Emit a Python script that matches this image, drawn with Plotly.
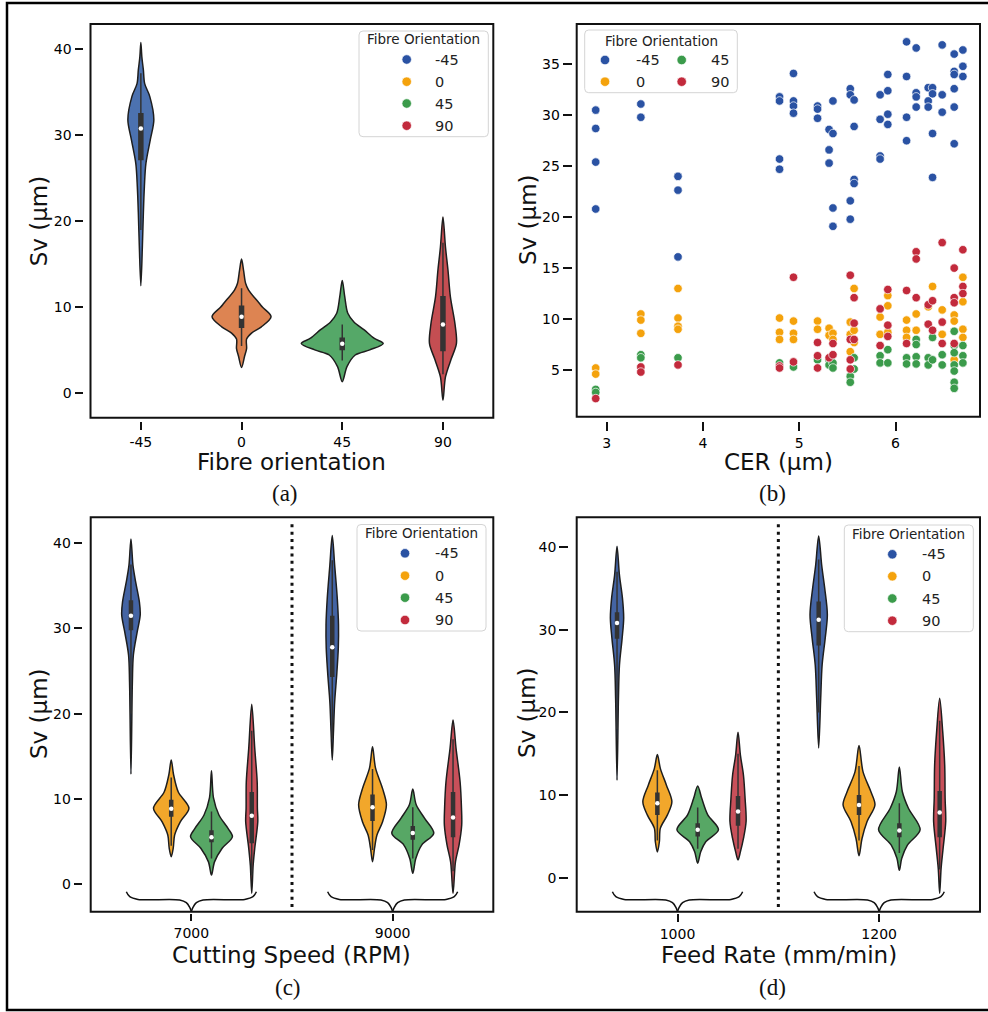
import plotly.graph_objects as go

W, H = 988, 1012
ORIENTATIONS = ['-45', '0', '45', '90']
CUT_SPEEDS = ['7000', '9000']
FEED_RATES = ['1000', '1200']

# ---------------- panel (b): CER vs Sv scatter ----------------
CER_COLS = [2.885, 3.354, 3.74, 4.795, 4.94, 5.19, 5.31, 5.35, 5.53, 5.57,
            5.84, 5.92, 6.115, 6.215, 6.34, 6.385, 6.485, 6.61, 6.70]
SV_B_M45 = [[30.5, 28.7, 25.4, 20.8], [31.1, 29.8], [24.0, 22.65, 16.1], [31.8, 31.4, 25.7, 24.7],
            [34.1, 31.4, 30.9, 30.2], [30.9, 30.6, 29.7], [28.6, 26.6, 25.3], [31.4, 28.2, 20.9, 19.1],
            [32.6, 32.0, 21.6, 19.8], [31.5, 28.9, 23.7, 23.3], [32.0, 29.6, 26.0, 25.7],
            [34.0, 32.4, 30.1, 29.1], [37.2, 33.8, 29.8, 27.5], [36.6, 32.2, 31.8, 30.8],
            [32.7, 31.4, 30.8], [32.7, 32.1, 28.2, 23.9], [36.9, 32.0, 30.3],
            [36.0, 34.3, 34.0, 32.6, 30.8, 27.2], [36.4, 34.8, 33.8]]
SV_B_0 = [[5.2, 4.6], [10.5, 9.9, 8.6], [13.0, 10.1, 9.3, 9.0], [10.1, 8.7, 8.0], [9.8, 8.6, 8.0],
          [9.8, 9.0], [9.1, 8.4], [8.6, 8.0], [9.7, 8.5, 6.8], [13.0, 8.9, 7.7], [10.2, 8.5],
          [12.3, 11.3, 8.7], [9.9, 8.9, 8.2], [10.5, 8.9], [11.2], [13.2], [10.9, 8.5],
          [10.4, 9.8, 6.0], [14.1, 11.7, 9.0, 8.2]]
SV_B_45 = [[3.1, 2.8], [6.5, 6.2], [6.2], [5.7], [5.3], [6.0], [6.0, 5.5], [5.7, 5.2], [4.4, 3.8],
           [6.2, 5.1], [6.4, 5.7], [7.0, 5.7], [6.2, 5.6], [8.0, 7.5, 6.3, 5.6], [6.2, 5.5],
           [8.2, 6.0], [6.5, 5.5], [8.8, 7.4, 6.7, 5.5, 4.9, 3.8, 3.2], [7.4, 6.4, 5.7]]
SV_B_90 = [[2.2], [5.3, 4.8], [5.5], [5.4, 5.2], [14.1, 5.8], [7.7, 6.4, 5.2], [6.2], [7.6, 6.5],
           [14.3, 8.0, 6.0, 5.1], [12.1, 9.6, 8.0], [11.0, 7.4], [12.9, 9.4, 8.3], [12.8, 7.6],
           [16.6, 15.9, 12.1], [11.4, 9.5], [11.8, 8.9], [17.5, 9.7, 7.6], [15.0, 12.1, 11.6, 7.6],
           [16.8, 13.2, 12.5]]

# ---------------- panel (a): violin profiles (Sv level, half width) ----------------
A_LEVELS = [
    [12.5, 17.0, 21.0, 24.0, 26.7, 29.5, 31.8, 34.5, 36.0, 37.6, 39.1, 40.8],
    [3.0, 4.3, 5.2, 6.3, 7.0, 7.7, 8.9, 10.0, 10.5, 12.0, 12.8, 14.3, 15.6],
    [1.35, 3.1, 4.45, 5.04, 5.8, 6.4, 7.4, 8.3, 9.3, 11.2, 13.1],
    [-0.8, 1.9, 3.9, 5.8, 8.1, 11.2, 14.3, 17.0, 20.5],
]
A_HALFWIDTHS = [
    [0, .015, .025, .035, .05, .094, .129, .089, .038, .025, .010, 0],
    [0, .030, .050, .050, .099, .194, .293, .209, .174, .070, .040, .020, 0],
    [0, .047, .129, .273, .407, .315, .215, .116, .055, .025, 0],
    [0, .025, .079, .134, .119, .074, .050, .025, 0],
]
A_BOX = [  # lower whisker, q1, median, q3, upper whisker
    [19.0, 27.1, 30.8, 32.6, 37.2],
    [5.5, 7.6, 8.9, 10.2, 12.2],
    [3.8, 5.0, 5.75, 6.5, 8.0],
    [2.2, 4.9, 8.0, 11.3, 17.5],
]

# ---------------- panel (c): cutting speed ----------------
C_LEVELS_7000 = [
    [12.9, 23.7, 26.9, 29.6, 31.6, 33.1, 35.5, 37.4, 40.5],
    [3.2, 4.2, 5.75, 7.3, 8.9, 10.8, 12.8, 14.55],
    [1.05, 2.6, 4.2, 5.55, 6.5, 8.1, 10.1, 13.3],
    [-1.1, 2.2, 4.2, 7.3, 8.9, 12.0, 15.9, 21.1],
]
C_HW_7000 = [
    [0, .007, .012, .031, .046, .042, .023, .010, 0],
    [0, .010, .017, .045, .088, .035, .012, 0],
    [0, .015, .053, .104, .083, .037, .010, 0],
    [0, .007, .015, .030, .028, .027, .015, 0],
]
C_BOX_7000 = [
    [20.0, 29.8, 31.5, 33.3, 37.5],
    [4.5, 7.9, 8.85, 9.9, 12.5],
    [3.0, 4.9, 5.5, 6.3, 8.5],
    [1.0, 4.8, 8.0, 10.8, 18.0],
]
C_LEVELS_9000 = [
    [14.55, 17.9, 21.4, 24.5, 27.7, 30.4, 33.5, 37.4, 40.9],
    [2.6, 4.2, 5.75, 7.3, 9.3, 11.2, 13.6, 16.1],
    [1.25, 3.0, 4.6, 5.95, 7.7, 9.3, 11.15],
    [-1.1, 2.6, 4.6, 6.9, 8.9, 12.0, 15.9, 19.25],
]
C_HW_9000 = [
    [0, .006, .012, .022, .030, .031, .025, .012, 0],
    [0, .010, .022, .050, .069, .050, .015, 0],
    [0, .015, .045, .104, .059, .017, 0],
    [0, .012, .030, .043, .042, .035, .015, 0],
]
C_BOX_9000 = [
    [17.0, 24.3, 27.8, 31.5, 38.0],
    [4.0, 7.4, 9.0, 10.5, 13.5],
    [3.0, 5.2, 6.0, 6.8, 9.0],
    [1.5, 5.5, 7.8, 10.8, 17.0],
]

# ---------------- panel (d): feed rate ----------------
D_LEVELS_1000 = [
    [11.8, 21.7, 25.7, 28.9, 31.4, 33.8, 36.6, 40.1],
    [3.1, 4.35, 6.0, 7.6, 9.2, 11.2, 13.2, 14.9],
    [1.75, 3.15, 4.35, 5.8, 7.6, 9.6, 11.1],
    [2.15, 3.15, 4.75, 6.8, 9.6, 12.4, 14.8, 17.6],
]
D_HW_1000 = [
    [0, .007, .012, .025, .033, .027, .012, 0],
    [0, .010, .015, .050, .072, .045, .015, 0],
    [0, .015, .040, .103, .050, .020, 0],
    [0, .012, .027, .040, .035, .027, .012, 0],
]
D_BOX_1000 = [
    [18.0, 28.9, 30.8, 32.1, 37.0],
    [4.5, 7.6, 9.0, 10.3, 13.0],
    [3.5, 5.0, 5.8, 6.6, 8.5],
    [3.5, 6.3, 8.0, 9.9, 15.0],
]
D_LEVELS_1200 = [
    [15.7, 21.7, 25.7, 28.9, 31.8, 35.0, 37.8, 41.35],
    [2.65, 4.75, 6.8, 8.8, 10.4, 12.8, 16.0],
    [0.9, 2.35, 3.95, 5.8, 8.4, 10.4, 13.4],
    [-1.9, 1.1, 3.55, 6.8, 9.6, 13.6, 17.7, 21.7],
]
D_HW_1200 = [
    [0, .010, .017, .032, .043, .030, .015, 0],
    [0, .015, .040, .079, .059, .020, 0],
    [0, .012, .040, .103, .045, .015, 0],
    [0, .007, .017, .030, .027, .025, .015, 0],
]
D_BOX_1200 = [
    [20.0, 28.1, 31.2, 33.4, 38.5],
    [4.5, 7.6, 8.8, 10.0, 13.5],
    [3.0, 4.9, 5.7, 6.6, 9.0],
    [1.0, 4.9, 7.9, 10.5, 19.0],
]

# ---------------- styles ----------------
DEEP = ['#4c72b0', '#dd8452', '#55a868', '#c44e52']
PTS = ['#2a52a3', '#f4a20c', '#3b9b4b', '#c22a3c']
VCD = ['#4464a3', '#f2a72b', '#57a765', '#c8505a']
OUTLINE = '#1e1e1e'
INNER = '#333333'
TXT = '#111111'
FONT = 'DejaVu Sans'
HUE_OFFSETS = [-0.3, -0.1, 0.1, 0.3]

fig = go.Figure()


def add_violins(xa, ya, centers, levels, hws, boxes, colors, boxw):
    wx, wy, bx, by, mx, my = [], [], [], [], [], []
    for c, lv, hw, bxs, col in zip(centers, levels, hws, boxes, colors):
        xs = [c + w for w in hw] + [c - w for w in reversed(hw[1:-1])] + [c]
        ys = list(lv) + list(reversed(lv[1:-1])) + [lv[0]]
        fig.add_trace(go.Scatter(x=xs, y=ys, mode='lines', fill='toself', fillcolor=col,
                                 line=dict(color=OUTLINE, width=1.5, shape='spline', smoothing=0.9),
                                 xaxis=xa, yaxis=ya, showlegend=False, hoverinfo='skip'))
        wlo, q1, med, q3, whi = bxs
        wx += [c, c, None]; wy += [wlo, whi, None]
        bx += [c, c, None]; by += [q1, q3, None]
        mx.append(c); my.append(med)
    fig.add_trace(go.Scatter(x=wx, y=wy, mode='lines', line=dict(color=INNER, width=1.5),
                             xaxis=xa, yaxis=ya, showlegend=False, hoverinfo='skip'))
    fig.add_trace(go.Scatter(x=bx, y=by, mode='lines', line=dict(color=INNER, width=boxw),
                             xaxis=xa, yaxis=ya, showlegend=False, hoverinfo='skip'))
    fig.add_trace(go.Scatter(x=mx, y=my, mode='markers',
                             marker=dict(color='white', size=4.5, line=dict(width=0)),
                             xaxis=xa, yaxis=ya, showlegend=False, hoverinfo='skip'))


# panel (a)
add_violins('x', 'y', list(range(len(ORIENTATIONS))), A_LEVELS, A_HALFWIDTHS, A_BOX, DEEP, 5.5)

# panel (b)
for i, data in enumerate([SV_B_M45, SV_B_0, SV_B_45, SV_B_90]):
    xs, ys = [], []
    for cer, vals in zip(CER_COLS, data):
        for v in vals:
            xs.append(cer); ys.append(v)
    fig.add_trace(go.Scatter(x=xs, y=ys, mode='markers', name=ORIENTATIONS[i],
                             marker=dict(color=PTS[i], size=8.5, line=dict(color='white', width=0.7)),
                             xaxis='x2', yaxis='y2', showlegend=False))

# panels (c), (d)
for xa, ya, groups in [('x3', 'y3', [(C_LEVELS_7000, C_HW_7000, C_BOX_7000), (C_LEVELS_9000, C_HW_9000, C_BOX_9000)]),
                       ('x4', 'y4', [(D_LEVELS_1000, D_HW_1000, D_BOX_1000), (D_LEVELS_1200, D_HW_1200, D_BOX_1200)])]:
    for g, (lv, hw, bxs) in enumerate(groups):
        add_violins(xa, ya, [g + o for o in HUE_OFFSETS], lv, hw, bxs, VCD, 4.5)

# domains (pixels)
DOM = {
    'a': dict(x=(90.5, 493.3), y=(24, 417.7)),
    'b': dict(x=(576.7, 980), y=(24, 416.7)),
    'c': dict(x=(90.7, 493.3), y=(517.3, 911.7)),
    'd': dict(x=(576.7, 980), y=(517.3, 911.7)),
}
RANGES = {
    'a': dict(x=[-0.5, 3.5], y=[-2.84, 42.94]),
    'b': dict(x=[2.6875, 6.878], y=[0.42, 38.95]),
    'c': dict(x=[-0.5, 1.5], y=[-3.25, 43.05]),
    'd': dict(x=[-0.5, 1.5], y=[-4.11, 43.6]),
}
TICKS = {
    'a': dict(xv=[0, 1, 2, 3], xt=ORIENTATIONS, yv=[0, 10, 20, 30, 40], ygap=8, ylen=8, xgap=3, xlen=8),
    'b': dict(xv=[3, 4, 5, 6], xt=['3', '4', '5', '6'], yv=[5, 10, 15, 20, 25, 30, 35], ygap=5, ylen=9, xgap=4, xlen=9),
    'c': dict(xv=[0, 1], xt=CUT_SPEEDS, yv=[0, 10, 20, 30, 40], ygap=9, ylen=8, xgap=1.5, xlen=7),
    'd': dict(xv=[0, 1], xt=FEED_RATES, yv=[0, 10, 20, 30, 40], ygap=8.5, ylen=9, xgap=1.5, xlen=8),
}
SUFFIX = {'a': '', 'b': '2', 'c': '3', 'd': '4'}

layout_axes = {}
shapes = []
for p in 'abcd':
    s = SUFFIX[p]
    d = DOM[p]
    t = TICKS[p]
    xdom = [d['x'][0] / W, d['x'][1] / W]
    ydom = [1 - d['y'][1] / H, 1 - d['y'][0] / H]
    common = dict(showgrid=False, zeroline=False, showline=False, ticks='outside', tickcolor=TXT,
                  tickwidth=1.5, tickfont=dict(family=FONT, size=14, color='#000000'), fixedrange=True)
    layout_axes['xaxis' + s] = dict(domain=xdom, range=RANGES[p]['x'], anchor='free',
                                    position=1 - (d['y'][1] + t['xgap']) / H, tickmode='array',
                                    tickvals=t['xv'], ticktext=t['xt'], ticklen=t['xlen'], **common)
    layout_axes['yaxis' + s] = dict(domain=ydom, range=RANGES[p]['y'], anchor='free',
                                    position=(d['x'][0] - t['ygap']) / W, tickmode='array',
                                    tickvals=t['yv'], ticktext=[str(v) for v in t['yv']],
                                    ticklen=t['ylen'], **common)
    shapes.append(dict(type='rect', xref='x%s domain' % s, yref='y%s domain' % s, x0=0, x1=1, y0=0, y1=1,
                       line=dict(color=TXT, width=2), layer='above'))

# dotted separators + braces in (c) and (d)
for p in 'cd':
    s = SUFFIX[p]
    shapes.append(dict(type='line', xref='x' + s, yref='y%s domain' % s, x0=0.5, x1=0.5, y0=0.012, y1=0.985,
                       line=dict(color=TXT, width=3, dash='3px,4.3px'), layer='above'))
    d = DOM[p]
    yr = RANGES[p]['y']
    upp = (yr[1] - yr[0]) / (d['y'][1] - d['y'][0])  # units per px
    bdx = [-0.323, -0.306, -0.265, -0.058, -0.025, -0.008, 0]
    bpy = [20, 15, 12.3, 11.7, 9, 4.3, 0]
    bx, by = [], []
    for g in range(2):
        bx += [g + v for v in bdx] + [None] + [g - v for v in reversed(bdx)] + [None]
        by += [yr[0] + v * upp for v in bpy] + [None] + [yr[0] + v * upp for v in reversed(bpy)] + [None]
    fig.add_trace(go.Scatter(x=bx, y=by, mode='lines', line=dict(color=TXT, width=1.5, shape='spline'),
                             xaxis='x' + s, yaxis='y' + s, showlegend=False, hoverinfo='skip', cliponaxis=False))

# overlay pixel axes for legends / labels
layout_axes['xaxis5'] = dict(domain=[0, 1], range=[0, W], visible=False, fixedrange=True, anchor='y5')
layout_axes['yaxis5'] = dict(domain=[0, 1], range=[H, 0], visible=False, fixedrange=True, anchor='x5')

annotations = []


def ann(x, y, text, size, family=FONT, angle=0, xanchor='center', color=TXT):
    annotations.append(dict(x=x, y=y, xref='x5', yref='y5', text=text, showarrow=False, textangle=angle,
                            xanchor=xanchor, yanchor='middle', font=dict(family=family, size=size, color=color)))


def rrect(x0, y0, x1, y1, r=4):
    return (f'M {x0 + r},{y0} L {x1 - r},{y0} Q {x1},{y0} {x1},{y0 + r} L {x1},{y1 - r} '
            f'Q {x1},{y1} {x1 - r},{y1} L {x0 + r},{y1} Q {x0},{y1} {x0},{y1 - r} '
            f'L {x0},{y0 + r} Q {x0},{y0} {x0 + r},{y0} Z')


LEGENDS = [
    dict(box=(359, 31, 488.3, 136.7), title=(423.6, 38.8),
         dots=[(406.7, 59.5), (406.7, 81.7), (406.7, 103.5), (406.7, 125.7)], lx=[433] * 4),
    dict(box=(584.7, 30, 737.3, 92.7), title=(661, 40.5),
         dots=[(605, 60), (605, 81.7), (681.7, 60), (681.7, 81.7)], lx=[634, 634, 709, 709]),
    dict(box=(357, 524.5, 486, 631), title=(421.5, 532.6),
         dots=[(405, 553.3), (405, 575.7), (405, 597.7), (405, 620)], lx=[433] * 4),
    dict(box=(844.3, 525, 973.3, 631.7), title=(908.8, 533.6),
         dots=[(892.3, 554.3), (892.3, 576.3), (892.3, 598.5), (892.3, 620.7)], lx=[920] * 4),
]
for lg in LEGENDS:
    x0, y0, x1, y1 = lg['box']
    shapes.append(dict(type='path', xref='x5', yref='y5', path=rrect(x0, y0, x1, y1),
                       line=dict(color='#d4d4d4', width=1), fillcolor='rgba(255,255,255,0.85)', layer='below'))
    ann(lg['title'][0], lg['title'][1], 'Fibre Orientation', 13.5, color='#222222')
    for i, ((dx, dy), lx) in enumerate(zip(lg['dots'], lg['lx'])):
        fig.add_trace(go.Scatter(x=[dx], y=[dy], mode='markers', xaxis='x5', yaxis='y5', showlegend=False,
                                 hoverinfo='skip',
                                 marker=dict(color=PTS[i], size=9.5, line=dict(color='white', width=0.7))))
        ann(lx, dy, ORIENTATIONS[i], 14.5, xanchor='left', color='#222222')

# axis titles and captions
ann(291, 462, 'Fibre orientation', 23)
ann(778, 462, 'CER (µm)', 23)
ann(291.7, 955, 'Cutting Speed (RPM)', 23)
ann(779, 955, 'Feed Rate (mm/min)', 23)
for (x, y) in [(39.3, 221), (528, 220), (39, 714), (527, 713)]:
    ann(x, y, 'Sv (µm)', 23, angle=-90)
for (x, y, t) in [(285, 493, '(a)'), (772, 493, '(b)'), (288, 987, '(c)'), (772, 987, '(d)')]:
    ann(x, y, t, 23, family='Liberation Serif')

# outer frame of the figure
shapes.append(dict(type='rect', xref='paper', yref='paper', x0=7 / W, x1=1.02, y0=1 - 1010 / H, y1=1 - 3 / H,
                   line=dict(color='#000000', width=2.5), layer='above'))

fig.update_layout(width=W, height=H, margin=dict(l=0, r=0, t=0, b=0), autosize=False,
                  paper_bgcolor='white', plot_bgcolor='rgba(0,0,0,0)', showlegend=False,
                  shapes=shapes, annotations=annotations, **layout_axes)

fig.write_html('out.html', config={'displayModeBar': False},
               post_script="document.body.style.margin='0px';")
